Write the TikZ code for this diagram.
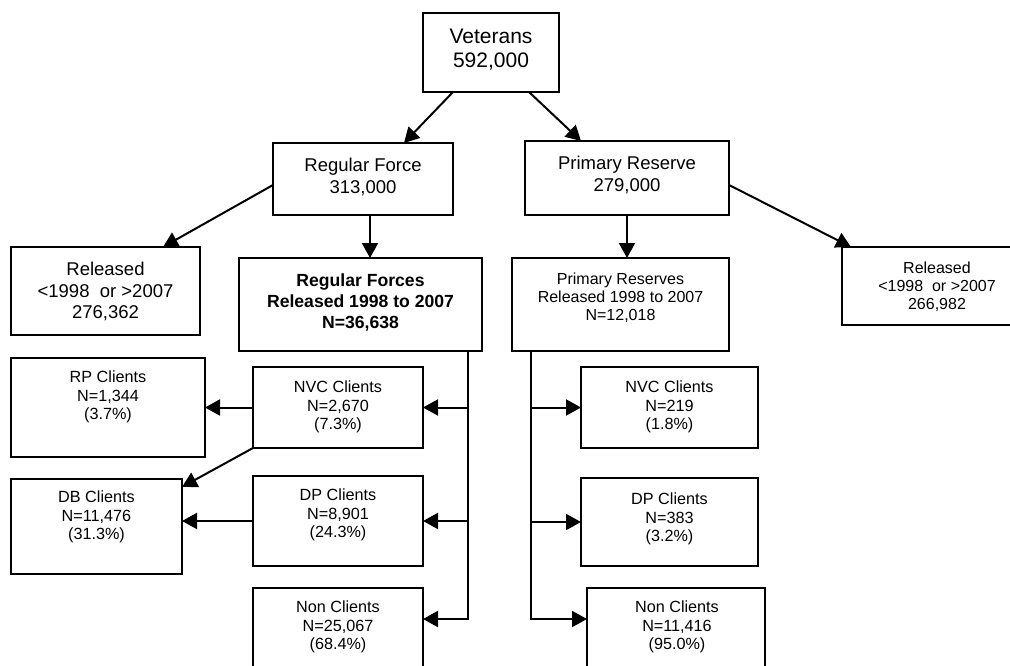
\documentclass[tikz,border=0pt]{standalone}
\usepackage{fontspec}
\setmainfont{Liberation Sans}
\usetikzlibrary{arrows.meta,calc}
\begin{document}
\begin{tikzpicture}[x=1pt,y=-1pt,
  box/.style={draw, line width=1.8pt, inner sep=0pt, outer sep=0pt},
  txt/.style={inner sep=0pt, align=center},
  fA/.style={font=\fontsize{21}{24.5}\selectfont},
  fB/.style={font=\fontsize{18.5}{21.7}\selectfont},
  fBb/.style={font=\bfseries\fontsize{17.6}{21}\selectfont},
  fC/.style={font=\fontsize{16}{18.2}\selectfont},
  fD/.style={font=\fontsize{16.2}{18.6}\selectfont},
  lin/.style={line width=2pt},
  arr/.style={line width=2pt, line join=miter, -{Triangle[length=15pt,width=16pt]}}]
\useasboundingbox (0,0) rectangle (1010,666);
\clip (0,0) rectangle (1010,666);
% boxes
\node[box, minimum width=136pt, minimum height=79pt] (vet) at (491,52.5) {};
\node[box, minimum width=180pt, minimum height=72pt] (rf) at (363,179) {};
\node[box, minimum width=204pt, minimum height=74pt] (pr) at (627,178) {};
\node[box, minimum width=189pt, minimum height=88pt] (relL) at (105.5,291) {};
\node[box, minimum width=243pt, minimum height=93pt] (rfr) at (360.5,304.5) {};
\node[box, minimum width=217pt, minimum height=93pt] (prr) at (620.5,304.5) {};
\node[box, minimum width=190pt, minimum height=78pt] (relR) at (937,286) {};
\node[box, minimum width=194pt, minimum height=99pt] (rp) at (108,407.5) {};
\node[box, minimum width=170pt, minimum height=81pt] (nvcL) at (338,407.5) {};
\node[box, minimum width=171pt, minimum height=95pt] (db) at (96.5,526.5) {};
\node[box, minimum width=170pt, minimum height=90pt] (dpL) at (338,521) {};
\node[box, minimum width=170pt, minimum height=92pt] (nonL) at (338,634) {};
\node[box, minimum width=177pt, minimum height=81pt] (nvcR) at (669.5,407.5) {};
\node[box, minimum width=177pt, minimum height=88pt] (dpR) at (669.5,522) {};
\node[box, minimum width=178pt, minimum height=92pt] (nonR) at (676,634) {};
% texts
\node[txt, fA] (vet-t) at (491,49.5) {Veterans\\592,000};
\node[txt, fB] (rf-t) at (363,177) {Regular Force\\313,000};
\node[txt, fB] (pr-t) at (627,175) {Primary Reserve\\279,000};
\node[txt, fB] (relL-t) at (105.5,291.5) {Released\\<1998\ \ or >2007\\276,362};
\node[txt, fBb] (rfr-t) at (360.5,302.5) {Regular Forces\\Released 1998 to 2007\\N=36,638};
\node[txt, fC] (prr-t) at (620.5,298) {Primary Reserves\\Released 1998 to 2007\\N=12,018};
\node[txt, fC] (relR-t) at (937,287) {Released\\<1998\ \ or >2007\\266,982};
\node[txt, fD] (rp-t) at (108,397) {RP Clients\\N=1,344\\(3.7\%)};
\node[txt, fD] (nvcL-t) at (338,407) {NVC Clients\\N=2,670\\(7.3\%)};
\node[txt, fD] (db-t) at (96.5,517) {DB Clients\\N=11,476\\(31.3\%)};
\node[txt, fD] (dpL-t) at (338,515) {DP Clients\\N=8,901\\(24.3\%)};
\node[txt, fD] (nonL-t) at (338,627) {Non Clients\\N=25,067\\(68.4\%)};
\node[txt, fD] (nvcR-t) at (669.5,407) {NVC Clients\\N=219\\(1.8\%)};
\node[txt, fD] (dpR-t) at (669.5,519) {DP Clients\\N=383\\(3.2\%)};
\node[txt, fD] (nonR-t) at (677,627) {Non Clients\\N=11,416\\(95.0\%)};
% connectors
\draw[arr] ([xshift=30pt]vet.south west) -- ([xshift=131pt]rf.north west);
\draw[arr] ([xshift=-30pt]vet.south east) -- ([xshift=56pt]pr.north west);
\draw[arr] ([yshift=-6pt]rf.west) -- ([xshift=57.5pt]relL.north);
\coordinate (rfd) at ([xshift=7pt]rf.south);
\draw[arr] (rfd) -- (rfd |- rfr.north);
\draw[arr] (pr.south) -- (pr.south |- prr.north);
\draw[arr] ([yshift=-7pt]pr.east) -- ([xshift=9pt]relR.north west);
\coordinate (lv) at (468,619);
\draw[arr] (lv |- rfr.south) -- (lv) -- (lv -| nonL.east);
\draw[arr] (lv |- nvcL.east) -- (nvcL.east);
\draw[arr] (lv |- dpL.east) -- (dpL.east);
\coordinate (rv) at (531,619);
\draw[arr] (rv |- prr.south) -- (rv) -- (rv -| nonR.west);
\draw[arr] (rv |- nvcR.west) -- (nvcR.west);
\draw[arr] (rv |- dpR.west) -- (dpR.west);
\draw[arr] (nvcL.west) -- (nvcL.west -| rp.east);
\draw[arr] (nvcL.south west) -- ([yshift=-8pt]db.north east);
\draw[arr] (dpL.west) -- (dpL.west -| db.east);
\end{tikzpicture}
\end{document}
